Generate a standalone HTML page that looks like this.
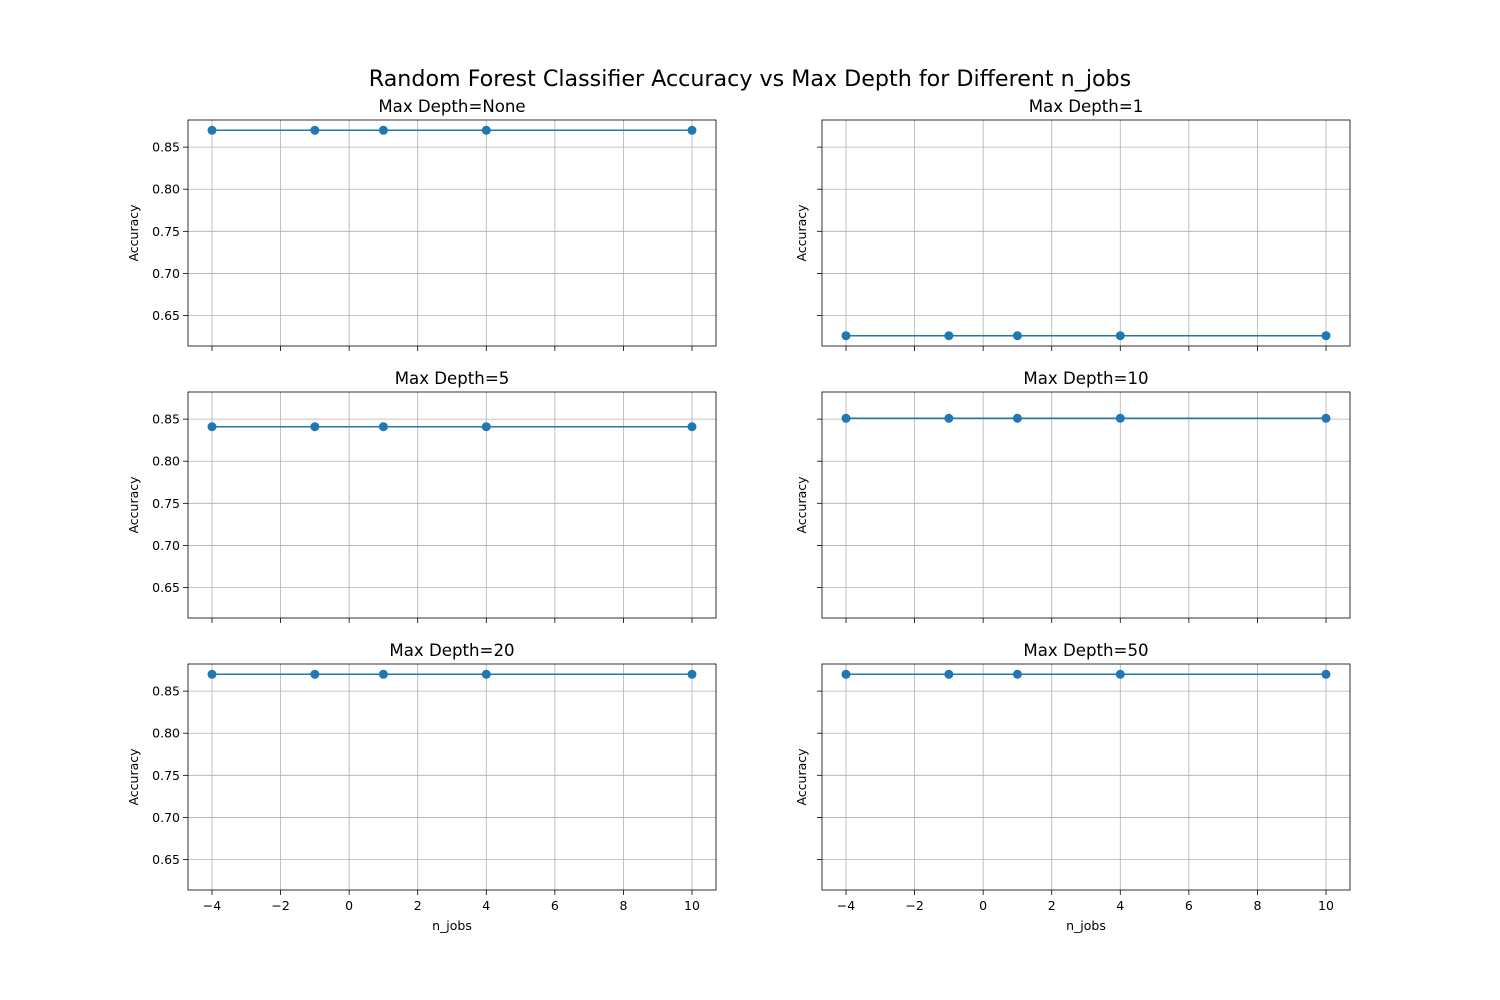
<!DOCTYPE html>
<html><head><meta charset="utf-8"><style>
html,body{margin:0;padding:0;background:#fff}
svg{display:block;font-family:"DejaVu Sans","Liberation Sans",sans-serif}
</style></head><body>
<svg id="chart" width="1500" height="1000" viewBox="0 0 1500 1000">
<text x="750" y="86" font-size="22.2" text-anchor="middle" fill="#000">Random Forest Classifier Accuracy vs Max Depth for Different n_jobs</text>
</svg>
<script>
const nJobs = [-4, -1, 1, 4, 10];
const panelTitles = ["Max Depth=None","Max Depth=1","Max Depth=5","Max Depth=10","Max Depth=20","Max Depth=50"];
const accNone = [0.87, 0.87, 0.87, 0.87, 0.87];
const acc1 = [0.626, 0.626, 0.626, 0.626, 0.626];
const acc5 = [0.841, 0.841, 0.841, 0.841, 0.841];
const acc10 = [0.851, 0.851, 0.851, 0.851, 0.851];
const acc20 = [0.87, 0.87, 0.87, 0.87, 0.87];
const acc50 = [0.87, 0.87, 0.87, 0.87, 0.87];
const xTicks = [-4, -2, 0, 2, 4, 6, 8, 10];
const yTicks = [0.65, 0.70, 0.75, 0.80, 0.85];
const yTickLabels = ["0.65","0.70","0.75","0.80","0.85"];

const series = [accNone, acc1, acc5, acc10, acc20, acc50];
const svg = document.getElementById('chart');
const NS = 'http://www.w3.org/2000/svg';
function mk(tag, attrs, parent){const e=document.createElementNS(NS,tag);for(const k in attrs)e.setAttribute(k,attrs[k]);(parent||svg).appendChild(e);return e;}

const allX = nJobs; const xmin0=Math.min(...allX), xmax0=Math.max(...allX);
const xpad=(xmax0-xmin0)*0.05; const xmin=xmin0-xpad, xmax=xmax0+xpad;
const allY = series.flat(); const ymin0=Math.min(...allY), ymax0=Math.max(...allY);
const ypad=(ymax0-ymin0)*0.05; const ymin=ymin0-ypad, ymax=ymax0+ypad;

const lefts=[188,822], tops=[120,392,664], W=528, H=226;
for(let i=0;i<6;i++){
  const col=i%2, row=Math.floor(i/2);
  const L=lefts[col], T=tops[row];
  const sx=v=>L+(v-xmin)/(xmax-xmin)*W;
  const sy=v=>T+H-(v-ymin)/(ymax-ymin)*H;
  const g=mk('g',{});
  
  
  xTicks.forEach(t=>{
    const x=sx(t);
    const gl=mk('line',{x1:x,x2:x,y1:T,y2:T+H,stroke:'#b0b0b0','stroke-width':0.8},g);
    
    
    mk('line',{x1:x,x2:x,y1:T+H,y2:T+H+5,stroke:'#000','stroke-width':0.8},g);
    if(row===2){
      const tx=mk('text',{x:x,y:T+H+20,'font-size':12.5,'text-anchor':'middle'},g);
      tx.textContent=(t<0?'\u2212'+(-t):String(t));
      
      
    }
  });
  yTicks.forEach((t,k)=>{
    const y=sy(t);
    const gl=mk('line',{x1:L,x2:L+W,y1:y,y2:y,stroke:'#b0b0b0','stroke-width':0.8},g);
    
    
    mk('line',{x1:L-5,x2:L,y1:y,y2:y,stroke:'#000','stroke-width':0.8},g);
    if(col===0){
      const tx=mk('text',{x:L-8,y:y+4.5,'font-size':12.5,'text-anchor':'end'},g);
      tx.textContent=yTickLabels[k];
      
      
    }
  });
  const fr=mk('rect',{x:L,y:T,width:W,height:H,fill:'none',stroke:'#000','stroke-width':0.8},g);
  
  
  const vals=series[i];
  const pl=mk('polyline',{points:nJobs.map((x,j)=>sx(x)+','+sy(vals[j])).join(' '),fill:'none',stroke:'#1f77b4','stroke-width':1.5},g);
  
  
  nJobs.forEach((x,j)=>{
    const c=mk('circle',{cx:sx(x),cy:sy(vals[j]),r:4.5,fill:'#1f77b4'},g);
    
    
  });
  const ti=mk('text',{x:L+W/2,y:T-8,'font-size':16.6,'text-anchor':'middle'},g);
  ti.textContent=panelTitles[i];
  
  
  const yl=mk('text',{x:0,y:0,'font-size':12.5,'text-anchor':'middle',transform:'translate('+(L-50)+','+(T+H/2)+') rotate(-90)'},g);
  yl.textContent='Accuracy';
  
  
  if(col===1) yl.setAttribute('transform','translate('+(L-16)+','+(T+H/2)+') rotate(-90)');
  if(row===2){
    const xl=mk('text',{x:L+W/2,y:T+H+40,'font-size':12.5,'text-anchor':'middle'},g);
    xl.textContent='n_jobs';
    
    
  }
}
</script>
</body></html>
